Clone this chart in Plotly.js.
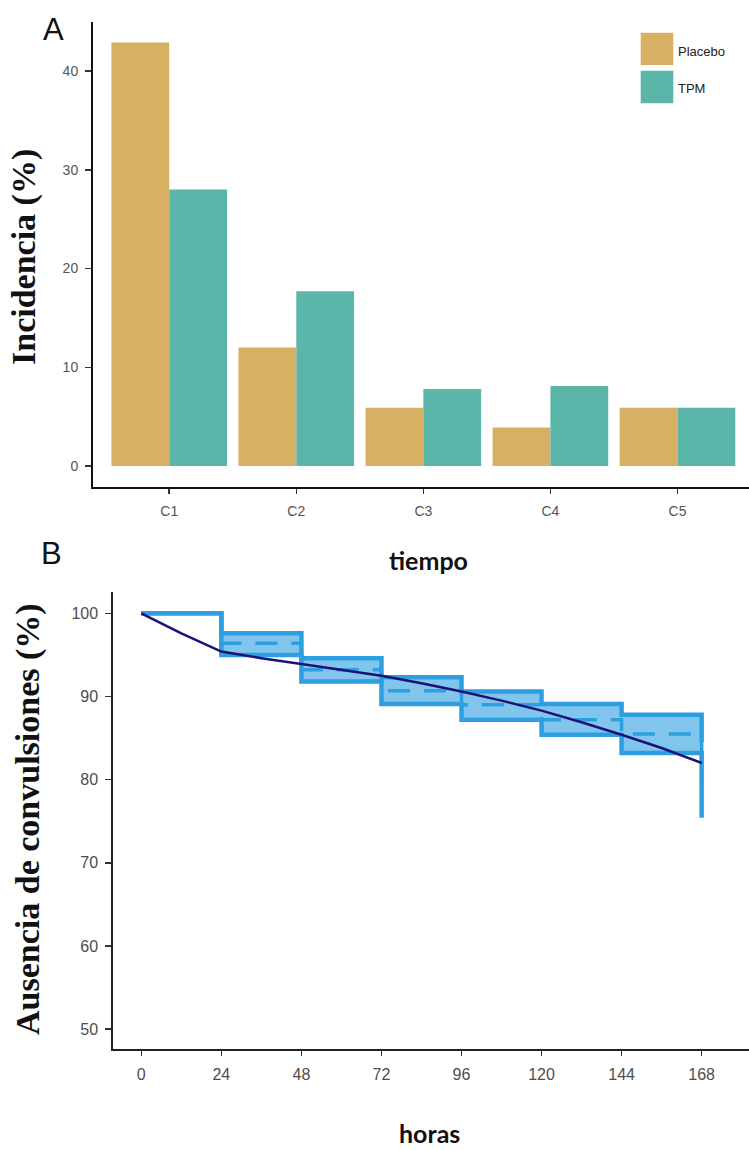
<!DOCTYPE html>
<html>
<head>
<meta charset="utf-8">
<script src="https://cdn.plot.ly/plotly-3.0.1.min.js"></script>
<style>html,body{margin:0;padding:0;background:#fff;}#chart{width:749px;height:1150px;}</style>
</head>
<body>
<div id="chart"></div>
<script>
// ---- Panel A data ----
const categories = ["C1", "C2", "C3", "C4", "C5"];
const placebo = [42.9, 12, 5.9, 3.9, 5.9];
const tpm = [28, 17.7, 7.8, 8.1, 5.9];
const seriesNames = ["Placebo", "TPM"];

// ---- Panel B data ----
const horas = [0, 24, 48, 72, 96, 120, 144, 168];
const bandUpper = [100, 97.6, 94.6, 92.3, 90.6, 89.1, 87.8, 84.5];
const bandLower = [100, 95.0, 91.8, 89.1, 87.2, 85.4, 83.2, 75.4];
const bandMedian = [100, 96.4, 93.2, 90.7, 89.0, 87.2, 85.5, 80.0];
const predHoras = [0, 12, 24, 36, 48, 60, 72, 84, 96, 108, 120, 132, 144, 156, 168];
const predicted = [100, 97.6, 95.4, 94.6, 93.9, 93.2, 92.5, 91.6, 90.6, 89.5, 88.3, 86.9, 85.4, 83.8, 82.0];
const xTicksB = [0, 24, 48, 72, 96, 120, 144, 168];
const yTicksB = [50, 60, 70, 80, 90, 100];
const yTicksA = [0, 10, 20, 30, 40];

const W = 749, H = 1150;
const px = x => x / W;
const py = y => 1 - y / H;

const colPlacebo = "#d6b063";
const colTPM = "#5bb5a9";
const colBand = "#2d9fe0";
const colFill = "#82c5ec";
const colPred = "#1b1279";

const traces = [
  {type: "bar", x: categories, y: placebo, name: seriesNames[0], marker: {color: colPlacebo}, xaxis: "x", yaxis: "y", showlegend: false},
  {type: "bar", x: categories, y: tpm, name: seriesNames[1], marker: {color: colTPM}, xaxis: "x", yaxis: "y", showlegend: false},
  {type: "scatter", mode: "lines", x: horas, y: bandLower, line: {shape: "hv", color: colBand, width: 0}, xaxis: "x2", yaxis: "y2", showlegend: false, hoverinfo: "skip"},
  {type: "scatter", mode: "lines", x: horas, y: bandUpper, fill: "tonexty", fillcolor: colFill, line: {shape: "hv", color: colBand, width: 0}, xaxis: "x2", yaxis: "y2", showlegend: false, hoverinfo: "skip"},
  {type: "scatter", mode: "lines", x: horas, y: bandMedian, line: {shape: "hv", color: colBand, width: 3.5, dash: "22px,14px"}, xaxis: "x2", yaxis: "y2", showlegend: false},
  {type: "scatter", mode: "lines", x: horas, y: bandUpper, line: {shape: "hv", color: colBand, width: 4.5}, xaxis: "x2", yaxis: "y2", showlegend: false},
  {type: "scatter", mode: "lines", x: horas, y: bandLower, line: {shape: "hv", color: colBand, width: 4.5}, xaxis: "x2", yaxis: "y2", showlegend: false},
  {type: "scatter", mode: "lines", x: predHoras, y: predicted, line: {color: colPred, width: 2.5}, xaxis: "x2", yaxis: "y2", showlegend: false}
];

const tickFontA = {family: "Liberation Sans, Arial, sans-serif", size: 14, color: "#555"};
const tickFontB = {family: "Liberation Sans, Arial, sans-serif", size: 16, color: "#4d4d4d"};
const serifTitle = {family: "Liberation Serif, Times New Roman, serif", size: 34, color: "#111", weight: 700};
const sansTitle = {family: "Lato, Open Sans, sans-serif", size: 25, color: "#111", weight: 700};

const layout = {
  width: W, height: H,
  margin: {l: 0, r: 0, t: 0, b: 0},
  paper_bgcolor: "#fff", plot_bgcolor: "#fff",
  barmode: "group", bargap: 0.09, bargroupgap: 0,
  showlegend: false,
  xaxis: {
    domain: [px(93), 1], anchor: "y", type: "category",
    range: [-0.6, 4.563],
    showline: true, linecolor: "#111", linewidth: 2,
    ticks: "outside", ticklen: 5, tickcolor: "#333", tickwidth: 1.5,
    tickfont: tickFontA, ticklabelstandoff: 5,
    showgrid: false, zeroline: false
  },
  yaxis: {
    domain: [py(487.3), py(21.7)], anchor: "x",
    range: [-2.15, 45],
    tickvals: yTicksA, ticktext: yTicksA.map(String),
    showline: true, linecolor: "#111", linewidth: 2,
    ticks: "outside", ticklen: 6, tickcolor: "#333", tickwidth: 1.5,
    tickfont: tickFontA, ticklabelstandoff: 4,
    showgrid: false, zeroline: false
  },
  xaxis2: {
    domain: [px(113.3), 1], anchor: "y2",
    range: [-8.4, 182.2],
    tickvals: xTicksB, ticktext: xTicksB.map(String),
    showline: true, linecolor: "#222", linewidth: 2,
    ticks: "outside", ticklen: 5, tickcolor: "#333", tickwidth: 1.5,
    tickfont: tickFontB, ticklabelstandoff: 5,
    showgrid: false, zeroline: false
  },
  yaxis2: {
    domain: [py(1049), py(591.7)], anchor: "x2",
    range: [47.6, 102.6],
    tickvals: yTicksB, ticktext: yTicksB.map(String),
    showline: true, linecolor: "#222", linewidth: 2,
    ticks: "outside", ticklen: 6, tickcolor: "#333", tickwidth: 1.5,
    tickfont: tickFontB, ticklabelstandoff: 4,
    showgrid: false, zeroline: false
  },
  shapes: [
    {type: "rect", xref: "paper", yref: "paper", x0: px(640.7), x1: px(673.3), y0: py(65), y1: py(32.7), fillcolor: colPlacebo, line: {width: 0}},
    {type: "rect", xref: "paper", yref: "paper", x0: px(640.7), x1: px(673.3), y0: py(103.3), y1: py(70.7), fillcolor: colTPM, line: {width: 0}}
  ],
  annotations: [
    {text: "A", xref: "paper", yref: "paper", x: px(53), y: py(29), xanchor: "center", yanchor: "middle", showarrow: false, font: {family: "Liberation Sans, Arial, sans-serif", size: 31, color: "#111"}},
    {text: "B", xref: "paper", yref: "paper", x: px(51), y: py(553), xanchor: "center", yanchor: "middle", showarrow: false, font: {family: "Liberation Sans, Arial, sans-serif", size: 31, color: "#111"}},
    {text: seriesNames[0], xref: "paper", yref: "paper", x: px(676), y: py(51), xanchor: "left", yanchor: "middle", showarrow: false, font: {family: "Liberation Sans, Arial, sans-serif", size: 13, color: "#222"}},
    {text: seriesNames[1], xref: "paper", yref: "paper", x: px(676), y: py(89), xanchor: "left", yanchor: "middle", showarrow: false, font: {family: "Liberation Sans, Arial, sans-serif", size: 13, color: "#222"}},
    {text: "Incidencia (%)", xref: "paper", yref: "paper", x: px(24), y: py(257), xanchor: "center", yanchor: "middle", textangle: -90, showarrow: false, font: serifTitle},
    {text: "Ausencia de convulsiones (%)", xref: "paper", yref: "paper", x: px(28), y: py(819), xanchor: "center", yanchor: "middle", textangle: -90, showarrow: false, font: serifTitle},
    {text: "tiempo", xref: "paper", yref: "paper", x: px(428), y: py(560), xanchor: "center", yanchor: "middle", showarrow: false, font: sansTitle},
    {text: "horas", xref: "paper", yref: "paper", x: px(429), y: py(1133), xanchor: "center", yanchor: "middle", showarrow: false, font: sansTitle}
  ]
};

Plotly.newPlot("chart", traces, layout, {displayModeBar: false, staticPlot: true});
</script>
</body>
</html>
